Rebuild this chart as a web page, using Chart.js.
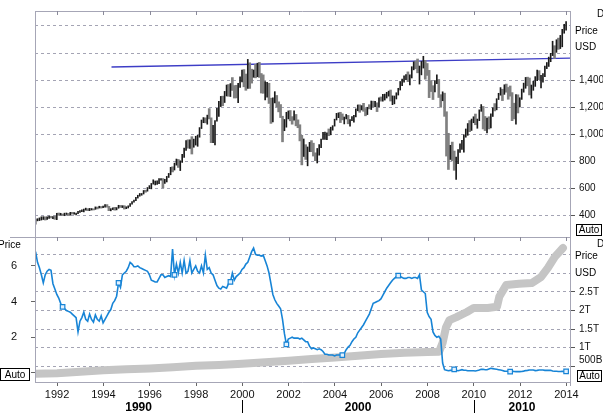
<!DOCTYPE html>
<html><head><meta charset="utf-8">
<script src="https://cdn.jsdelivr.net/npm/chart.js@4"></script>
<style>
html,body{margin:0;padding:0;background:#fff;width:603px;height:414px;overflow:hidden}
#c1{position:absolute;left:0;top:0}
#c2{position:absolute;left:0;top:230px}
</style></head><body>
<canvas id="c1" width="603" height="240"></canvas>
<canvas id="c2" width="603" height="184"></canvas>
<script>
// ---------------- DATA ----------------
const firstYear = 1991, lastYear = 2013;           // monthly categories Jan 1991 .. Dec 2013
const spHigh = [
375,378,384,392,393,392,391,397,396,393,398,418,
420,418,413,419,420,417,425,425,423,420,433,437,
443,449,456,452,454,453,451,465,464,470,468,471,
483,482,469,452,458,462,460,477,476,474,474,466,
473,489,504,515,535,551,564,564,586,588,608,622,
638,665,656,657,673,673,674,668,690,712,757,761,
788,818,815,805,853,898,954,960,960,983,965,986,
993,1050,1106,1124,1122,1142,1190,1122,1066,1102,1192,1244,
1280,1282,1317,1364,1368,1375,1419,1360,1362,1377,1425,1474,
1478,1445,1553,1528,1481,1475,1517,1525,1531,1449,1439,1390,
1383,1377,1267,1269,1315,1287,1240,1220,1134,1110,1163,1173,
1176,1131,1173,1147,1107,1071,993,966,924,907,941,954,
935,864,896,924,965,1015,1016,1012,1040,1053,1064,1112,
1155,1159,1163,1151,1128,1147,1140,1109,1131,1140,1188,1217,
1218,1212,1229,1191,1200,1219,1246,1245,1243,1233,1270,1276,
1295,1297,1310,1319,1327,1284,1283,1307,1340,1390,1407,1431,
1441,1461,1439,1499,1535,1541,1556,1504,1538,1576,1545,1523,
1472,1396,1359,1397,1440,1405,1293,1314,1304,1167,1008,919,
943,877,832,888,930,956,996,1040,1080,1102,1113,1130,
1150,1113,1181,1220,1206,1132,1121,1130,1151,1196,1227,1263,
1303,1345,1333,1366,1371,1346,1357,1308,1230,1293,1292,1270,
1334,1378,1420,1422,1416,1364,1392,1426,1475,1470,1435,1448,
1504,1530,1570,1598,1687,1654,1698,1710,1730,1775,1812,1832];
const spLow = [
338,362,364,368,372,368,372,380,383,378,373,371,
403,405,401,400,409,401,404,412,412,406,416,425,
429,428,441,437,437,442,442,447,450,457,456,460,
463,463,437,436,445,441,443,455,461,460,449,452,
457,469,485,500,511,530,544,551,560,573,581,600,
598,633,627,630,637,662,605,639,649,682,702,723,
737,773,756,733,793,830,882,898,896,855,905,921,
912,979,1043,1086,1085,1075,1114,939,939,923,1097,1132,
1205,1211,1235,1283,1281,1279,1324,1268,1269,1233,1346,1387,
1351,1325,1339,1339,1378,1421,1417,1425,1420,1305,1303,1254,
1275,1228,1081,1091,1232,1203,1166,1124,945,1027,1053,1114,
1100,1075,1104,1063,1049,952,775,837,815,768,873,872,
840,806,789,847,902,962,962,960,990,997,1031,1061,
1106,1123,1087,1107,1077,1114,1078,1060,1101,1090,1129,1174,
1163,1180,1170,1137,1146,1188,1183,1201,1205,1168,1202,1245,
1245,1253,1268,1282,1246,1219,1225,1261,1290,1327,1360,1385,
1403,1389,1364,1416,1476,1484,1454,1371,1439,1489,1407,1435,
1271,1316,1257,1313,1374,1272,1200,1248,1133,840,741,815,
805,735,667,784,866,889,869,979,993,1020,1029,1086,
1071,1045,1101,1170,1040,1028,1011,1040,1047,1132,1173,1181,
1257,1289,1249,1295,1311,1259,1282,1101,1114,1075,1158,1202,
1258,1311,1340,1358,1291,1267,1325,1354,1397,1403,1343,1385,
1426,1485,1501,1536,1581,1560,1605,1627,1633,1646,1746,1768];
const spClose = [
367,370,375,375,390,371,388,395,388,392,375,417,
409,413,404,415,415,408,424,414,418,419,431,436,
439,443,452,440,450,451,448,464,459,468,462,467,
482,467,446,451,457,444,458,476,463,472,454,459,
470,487,501,515,533,545,562,562,584,582,605,616,
636,640,646,654,669,671,640,652,687,705,757,741,
786,791,757,801,848,885,954,900,947,915,955,970,
980,1049,1102,1112,1091,1134,1121,957,1017,1099,1164,1229,
1280,1238,1286,1335,1302,1373,1329,1320,1283,1363,1389,1469,
1395,1366,1499,1452,1421,1455,1431,1518,1437,1429,1315,1320,
1366,1240,1160,1250,1256,1224,1211,1134,1041,1060,1140,1148,
1130,1107,1147,1077,1067,990,912,916,815,886,936,880,
856,841,848,917,964,975,990,1008,996,1051,1058,1112,
1131,1145,1126,1107,1121,1141,1102,1104,1115,1130,1174,1212,
1181,1204,1181,1157,1192,1191,1234,1220,1229,1207,1250,1248,
1280,1281,1295,1311,1270,1270,1277,1304,1336,1378,1401,1418,
1438,1407,1421,1482,1531,1503,1455,1474,1527,1549,1481,1468,
1379,1331,1323,1386,1400,1280,1267,1283,1166,969,896,903,
826,735,798,873,919,919,988,1021,1057,1036,1096,1115,
1074,1105,1169,1187,1089,1031,1102,1049,1141,1183,1181,1258,
1286,1327,1326,1364,1345,1321,1292,1219,1131,1253,1247,1258,
1312,1366,1409,1398,1310,1362,1379,1407,1441,1412,1416,1426,
1498,1515,1569,1598,1631,1606,1686,1633,1682,1757,1806,1825];
const spPrevClose = 330;   // close before first month

const fedFunds = [
6.8,6.2,5.9,5.5,5.05,5.5,5.7,5.8,5.75,5.0,4.7,4.4,
4.2,3.9,3.7,3.6,3.5,3.45,3.4,3.3,3.2,3.1,2.3,2.9,
3.1,3.4,3.0,2.9,3.3,3.0,2.85,3.25,3.0,2.9,3.2,2.8,
3.0,3.2,3.4,3.55,3.9,4.05,4.3,5.05,4.8,5.5,5.6,5.7,
5.9,6.2,6.1,5.95,5.95,6.0,5.9,5.85,5.8,5.75,5.7,5.5,
5.2,5.15,5.1,5.1,5.3,5.5,5.5,5.35,5.4,5.45,5.4,6.95,
5.5,6.1,5.6,6.2,5.6,6.3,5.6,5.7,6.3,5.6,5.8,6.0,
5.7,5.6,6.0,5.6,6.6,5.8,5.9,5.6,5.5,5.2,4.9,4.75,
4.7,4.85,4.8,4.75,5.0,5.1,5.6,5.2,5.4,5.5,5.6,5.8,
5.9,6.1,6.2,6.5,6.8,7.0,6.65,6.6,6.6,6.55,6.6,6.3,
6.0,5.6,5.0,4.4,4.1,3.9,3.75,3.6,3.0,2.2,1.6,1.9,
1.95,2.0,1.95,1.95,1.95,1.9,1.95,1.85,1.75,1.75,1.5,1.35,
1.4,1.35,1.3,1.35,1.3,1.2,1.05,1.05,1.0,1.0,1.0,0.95,
1.0,1.0,1.0,1.0,1.1,1.3,1.45,1.55,1.75,1.9,2.0,2.25,
2.4,2.55,2.7,2.9,3.1,3.3,3.6,3.9,3.95,4.0,4.05,4.15,
4.35,4.55,4.75,4.9,5.05,5.2,5.3,5.4,5.45,5.4,5.35,5.3,
5.3,5.35,5.35,5.3,5.35,5.35,5.3,5.5,4.65,4.55,4.45,3.4,
3.15,3.0,2.3,2.1,2.0,2.05,1.9,0.55,0.18,0.15,0.12,0.14,
0.15,0.2,0.15,0.12,0.15,0.18,0.15,0.15,0.12,0.12,0.12,0.12,
0.11,0.13,0.16,0.2,0.2,0.18,0.18,0.22,0.26,0.24,0.22,0.2,
0.18,0.16,0.14,0.1,0.09,0.09,0.07,0.1,0.08,0.07,0.08,0.07,
0.08,0.1,0.13,0.14,0.16,0.16,0.16,0.13,0.14,0.16,0.16,0.16,
0.14,0.15,0.14,0.15,0.11,0.09,0.09,0.08,0.08,0.09,0.08,0.09];
const markerStart = 14, markerEvery = 29;

const bsDates  = [1991.05,1992,1993,1994,1995,1996,1997,1998,1999,2000,2001,2002,2003,2004,2005,2006,2007,2008,2008.5,2008.65,2008.8,2008.95,2009.25,2009.7,2010.0,2010.6,2011.0,2011.1,2011.4,2011.95,2012.5,2012.9,2013.2,2013.5,2013.85];
const bsValues = [290,305,345,384,410,432,465,505,530,560,600,640,690,730,780,825,860,880,885,1120,1550,1740,1820,1960,2070,2070,2100,2370,2690,2720,2740,2900,3150,3450,3690];  // billions USD

const trendDates  = [1994.35, 2014.155];
const trendValues = [1497, 1563];

const priceTicks = [400,600,800,1000,1200,1400,1600,1800];
const rateTicks  = [0,2,4,6];
const bsTicks    = [500,1000,1500,2000,2500,3000,3500];
const yearTicks  = [1992,1994,1996,1998,2000,2002,2004,2006,2008,2010,2012,2014];
const decadeLabels  = ['1990','2000','2010'];
const decadeCenters = [1995.52, 2005.0, 2012.08];
const decadeSeparators = [2000, 2010];

// ---------------- BUILD ----------------
const X_MIN = 1991.045, X_MAX = 2014.155;
const months = [];
for (let y = firstYear; y <= lastYear; y++) for (let m = 0; m < 12; m++) months.push({y, m});
const monthX = months.map(o => o.y + (o.m + 0.3) / 12 + 0.045);

const upBars = [], downBars = [];
spHigh.forEach((h, i) => {
  const prev = i ? spClose[i - 1] : spPrevClose;
  const pt = {x: monthX[i], y: [spLow[i], h]};
  (spClose[i] >= prev ? upBars : downBars).push(pt);
});

Chart.defaults.font.family = "'Liberation Sans', Arial, sans-serif";
Chart.defaults.font.size = 10;
Chart.defaults.color = '#111';

const FONT = "10px 'Liberation Sans', Arial, sans-serif";
function txt(ctx, s, x, y, align) { ctx.font = FONT; ctx.fillStyle = '#000'; ctx.textAlign = align || 'left'; ctx.textBaseline = 'middle'; ctx.fillText(s, x, y); }
function autoBox(ctx, x1, y1, x2, y2) {
  ctx.fillStyle = '#fff'; ctx.fillRect(x1, y1, x2 - x1, y2 - y1);
  ctx.strokeStyle = '#000'; ctx.lineWidth = 1; ctx.strokeRect(x1 + 0.5, y1 + 0.5, x2 - x1 - 1, y2 - y1 - 1);
  txt(ctx, 'Auto', (x1 + x2) / 2, (y1 + y2) / 2 + 0.5, 'center');
}
function frame(ctx, a, extendLeftBottom) {
  ctx.save();
  ctx.strokeStyle = '#a6a6b6'; ctx.lineWidth = 1;
  ctx.beginPath();
  ctx.moveTo(a.left + 0.5, a.top); ctx.lineTo(a.left + 0.5, a.bottom);
  ctx.moveTo(a.right + 0.5, a.top); ctx.lineTo(a.right + 0.5, a.bottom + 4);
  ctx.moveTo(a.left, a.top + 0.5); ctx.lineTo(a.right, a.top + 0.5);
  ctx.moveTo(extendLeftBottom, a.bottom + 0.5); ctx.lineTo(a.right, a.bottom + 0.5);
  ctx.stroke();
  ctx.restore();
}
function innerTicks(ctx, xs, a, y0, len) {
  ctx.save(); ctx.strokeStyle = '#8a8a9a'; ctx.lineWidth = 1; ctx.beginPath();
  yearTicks.forEach(v => { const px = Math.round(xs.getPixelForValue(v)) + 0.5; ctx.moveTo(px, y0); ctx.lineTo(px, y0 + len); });
  ctx.stroke(); ctx.restore();
}

const topDeco = {
  id: 'topDeco',
  afterDraw(chart) {
    const {ctx, chartArea: a, scales} = chart;
    frame(ctx, a, 10);
    innerTicks(ctx, scales.x, a, a.top, 4);
    ctx.save();
    txt(ctx, 'Price', 575, 31);
    txt(ctx, 'USD', 575, 47);
    txt(ctx, 'D', 597, 14);
    autoBox(ctx, 576, 224, 602, 236);
    ctx.restore();
  }
};
const botDeco = {
  id: 'botDeco',
  afterDraw(chart) {
    const {ctx, chartArea: a, scales} = chart;
    frame(ctx, a, a.left);
    innerTicks(ctx, scales.x, a, a.top, 4);
    ctx.save();
    txt(ctx, 'Price', -2, 15);
    txt(ctx, 'Price', 575, 26);
    txt(ctx, 'USD', 575, 43);
    txt(ctx, 'D', 597, 14);
    autoBox(ctx, 0, 138, 30, 151);
    autoBox(ctx, 577, 140, 602, 152);
    ctx.strokeStyle = '#000'; ctx.lineWidth = 1; ctx.beginPath();
    decadeSeparators.forEach(v => { const px = Math.round(scales.x.getPixelForValue(v)) + 0.5; ctx.moveTo(px, 170); ctx.lineTo(px, 183); });
    ctx.stroke();
    ctx.restore();
  }
};
const noPad = s => { s.paddingTop = 0; s.paddingBottom = 0; s.paddingLeft = 0; s.paddingRight = 0; };

new Chart(document.getElementById('c1'), {
  type: 'bar',
  data: {datasets: [
    {type: 'bar', data: upBars, backgroundColor: '#1a1a1a', barThickness: 1, grouped: false, order: 1},
    {type: 'bar', data: downBars, backgroundColor: '#808080', barThickness: 2, grouped: false, order: 2},
    {type: 'line', data: trendDates.map((d, i) => ({x: d, y: trendValues[i]})), borderColor: '#3d3dc6', borderWidth: 1.3, pointRadius: 0, order: 3}
  ]},
  options: {
    responsive: false, animation: false, devicePixelRatio: 1,
    layout: {padding: {left: 35, top: 11, right: 0, bottom: 3}},
    plugins: {legend: {display: false}, tooltip: {enabled: false}},
    scales: {
      x: {type: 'linear', min: X_MIN, max: X_MAX, offset: false, display: false},
      y: {
        position: 'right', min: 243, max: 1910,
        afterBuildTicks: ax => { ax.ticks = priceTicks.map(v => ({value: v})); },
        afterFit: s => { s.width = 33; noPad(s); },
        grid: {color: '#a4a4b4', lineWidth: 1, tickLength: 5, tickColor: c => (c.tick && c.tick.value >= 1600) ? 'rgba(0,0,0,0)' : '#555'},
        border: {display: false, dash: [3, 3]},
        ticks: {padding: 4, autoSkip: false, color: '#111', font: {size: 10}, callback: v => v >= 1600 ? '' : v.toLocaleString('en-US')}
      }
    }
  },
  plugins: [topDeco]
});

new Chart(document.getElementById('c2'), {
  type: 'line',
  data: {datasets: [
    {data: fedFunds.map((v, i) => ({x: monthX[i], y: v})), yAxisID: 'y', borderColor: '#1784d6', borderWidth: 1.6, tension: 0,
     pointStyle: 'rect', pointRadius: c => (c.dataIndex >= markerStart && (c.dataIndex - markerStart) % markerEvery === 0) ? 3.2 : 0,
     pointBackgroundColor: '#e2f1ff', pointBorderColor: '#1784d6', pointBorderWidth: 1.2, order: 1},
    {data: bsDates.map((d, i) => ({x: d, y: bsValues[i]})), yAxisID: 'y2', borderColor: '#c5c5c5', borderWidth: 8, pointRadius: 0,
     borderCapStyle: 'round', borderJoinStyle: 'round', clip: 0, order: 2}
  ]},
  options: {
    responsive: false, animation: false, devicePixelRatio: 1,
    layout: {padding: {left: 0, top: 7, right: 0, bottom: 0}},
    plugins: {legend: {display: false}, tooltip: {enabled: false}},
    scales: {
      x: {
        type: 'linear', position: 'bottom', min: X_MIN, max: X_MAX, offset: false, weight: 0,
        afterBuildTicks: ax => { ax.ticks = yearTicks.map(v => ({value: v})); },
        afterFit: s => { s.height = 17; noPad(s); },
        grid: {drawOnChartArea: false, tickLength: 4, tickColor: '#666'},
        border: {display: false},
        ticks: {padding: 2, maxRotation: 0, autoSkip: false, color: '#111', font: {size: 11}, callback: v => String(v)}
      },
      x2: {
        type: 'linear', position: 'bottom', min: X_MIN, max: X_MAX, offset: false, weight: 1,
        afterBuildTicks: ax => { ax.ticks = decadeCenters.map(v => ({value: v})); },
        afterFit: s => { s.height = 15; noPad(s); },
        grid: {display: false, drawTicks: false},
        border: {display: false},
        ticks: {padding: 1, maxRotation: 0, autoSkip: false, color: '#000', font: {size: 12, weight: 'bold'}, callback: (v, i) => decadeLabels[i]}
      },
      y: {
        position: 'left', min: -0.51, max: 7.62,
        afterBuildTicks: ax => { ax.ticks = rateTicks.map(v => ({value: v})); },
        afterFit: s => { s.width = 35; noPad(s); },
        grid: {drawOnChartArea: false, tickLength: 4, tickColor: '#666'},
        border: {display: false},
        ticks: {padding: 14, autoSkip: false, color: '#111', font: {size: 11}, callback: v => v === 0 ? '' : String(v)}
      },
      y2: {
        position: 'right', min: 68, max: 3986,
        afterBuildTicks: ax => { ax.ticks = bsTicks.map(v => ({value: v})); },
        afterFit: s => { s.width = 33; noPad(s); },
        grid: {color: '#a4a4b4', lineWidth: 1, tickLength: 5, tickColor: c => (c.tick && c.tick.value >= 3000) ? 'rgba(0,0,0,0)' : '#555'},
        border: {display: false, dash: [3, 3]},
        ticks: {padding: 4, autoSkip: false, color: '#111', font: {size: 10},
          callback: v => v >= 3000 ? '' : (v === 500 ? ['500B', ''] : (v / 1000) + 'T')}
      }
    }
  },
  plugins: [botDeco]
});
</script>
</body></html>
